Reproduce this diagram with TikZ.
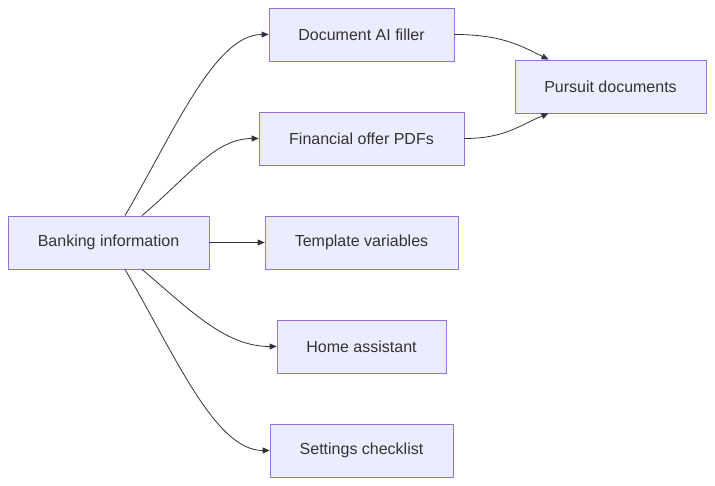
\documentclass[tikz,border=0pt]{standalone}
\usepackage{fontspec}
\setmainfont{Liberation Sans}
\usetikzlibrary{calc,arrows.meta}
\definecolor{boxfill}{HTML}{ECECFF}
\definecolor{boxline}{HTML}{9370DB}
\definecolor{linec}{HTML}{333333}
\definecolor{textc}{HTML}{333333}
\tikzset{
  box/.style={draw=boxline,fill=boxfill,line width=0.8pt,minimum height=53pt,inner sep=0pt,font=\fontsize{16}{19}\selectfont,text=textc},
  edge/.style={draw=linec,line width=0.8pt,-{Triangle[length=7pt,width=6pt]}}}
\begin{document}
\begin{tikzpicture}[x=1pt,y=-1pt]
\useasboundingbox (0,0) rectangle (715,486);
\node[box,minimum width=201pt] (bank) at (108.5,242.5) {Banking information};
\node[box,minimum width=185pt] (doc) at (361.5,34.5) {Document AI filler};
\node[box,minimum width=205pt] (fin) at (361.5,138.5) {Financial offer PDFs};
\node[box,minimum width=193pt] (tpl) at (361.5,242.5) {Template variables};
\node[box,minimum width=169pt] (home) at (361.5,346.5) {Home assistant};
\node[box,minimum width=183pt] (set) at (361.5,450.5) {Settings checklist};
\node[box,minimum width=191pt] (pur) at (610.5,86.5) {Pursuit documents};
\coordinate (b1) at ($(bank.north)+(16.5,0)$);
\coordinate (b2) at ($(bank.north)+(33.5,0)$);
\coordinate (b3) at ($(bank.south)+(33.5,0)$);
\coordinate (b4) at ($(bank.south)+(16.5,0)$);
\coordinate (p1) at ($(pur.north)+(-62,0)$);
\coordinate (p2) at ($(pur.south)+(-62,0)$);
\draw[edge] (b1) .. controls (175,130) and (215,34.5) .. (doc.west);
\draw[edge] (b2) .. controls (190,175) and (215,138.5) .. (fin.west);
\draw[edge] (bank.east) -- (tpl.west);
\draw[edge] (b3) .. controls (190,310) and (225,346.5) .. (home.west);
\draw[edge] (b4) .. controls (175,355) and (215,450.5) .. (set.west);
\draw[edge] (doc.east) .. controls (500,34.5) and (520,45) .. (p1);
\draw[edge] (fin.east) .. controls (505,138.5) and (520,125) .. (p2);
\end{tikzpicture}
\end{document}
